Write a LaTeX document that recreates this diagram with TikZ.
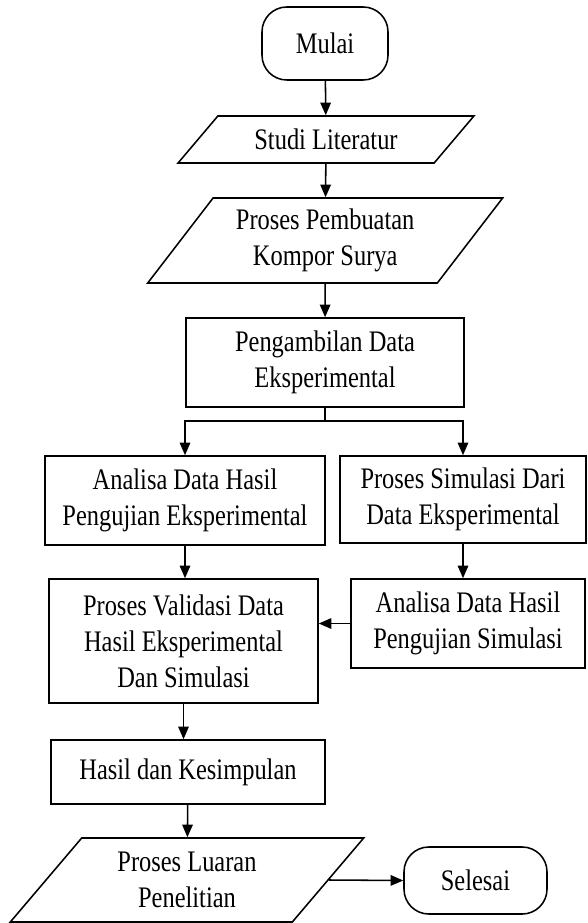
\documentclass[tikz,border=0pt]{standalone}
\usepackage{fontspec}
\setmainfont{Liberation Serif}[FakeStretch=0.82]
\usetikzlibrary{shapes.geometric,arrows.meta}

\begin{document}
\begin{tikzpicture}[
		font=\fontsize{21.2pt}{25.6pt}\selectfont,
		line width=1.1pt,
		>={Triangle[length=9pt,width=7.5pt]},
		proses/.style={rectangle, draw, align=center, inner sep=0pt},
		terminal/.style={rectangle, draw, rounded corners=0.62cm, align=center, inner sep=0pt},
		datain/.style={trapezium, draw, align=center, inner sep=0pt, trapezium stretches=true}
	]
		\useasboundingbox (0,0) rectangle (14.7,-23.075);

		% Top part
		\node[terminal, minimum width=3.15cm, minimum height=1.825cm] (mulai) at (8.125,-1.0875) {Mulai};
		\node[datain, trapezium left angle=38.5, trapezium right angle=141.5, minimum width=7.4cm, minimum height=1.175cm] (studi) at (8.15,-3.4875) {Studi Literatur};
		\node[datain, trapezium left angle=50.5, trapezium right angle=129.5, minimum width=8.875cm, minimum height=2.125cm] (buat) at (8.13,-6.0125) {Proses Pembuatan\\Kompor Surya};
		\node[proses, minimum width=6.95cm, minimum height=2.225cm] (ambil) at (8.125,-9.0625) {Pengambilan Data\\Eksperimental};
		\coordinate (cabang) at (8.125,-10.525);

		\draw[->] (mulai) -- (studi);
		\draw[->] (studi) -- (buat);
		\draw[->] (buat) -- (ambil);

		% Two branches
		\node[proses, minimum width=7cm, minimum height=2.225cm] (analisaeks) at (4.625,-12.5125) {Analisa Data Hasil\\Pengujian Eksperimental};
		\node[proses, minimum width=6.15cm, minimum height=2.175cm] (simulasi) at (11.575,-12.4875) {Proses Simulasi Dari\\Data Eksperimental};
		\node[proses, minimum width=6.725cm, minimum height=3.1cm] (validasi) at (4.5875,-16.025) {Proses Validasi Data\\Hasil Eksperimental\\Dan Simulasi};
		\node[proses, minimum width=5.85cm, minimum height=2.225cm] (analisasim) at (11.7,-15.5875) {Analisa Data Hasil\\Pengujian Simulasi};

		\draw (ambil) -- (cabang);
		\draw[->] (cabang) -| (analisaeks.north);
		\draw[->] (cabang) -| (simulasi.north);
		\draw[->] (analisaeks.south) -- (analisaeks.south |- validasi.north);
		\draw[->] (simulasi.south) -- (simulasi.south |- analisasim.north);
		\draw[->] (analisasim.west) -- (analisasim.west -| validasi.east);

		% Bottom part
		\node[proses, minimum width=6.85cm, minimum height=1.6cm] (hasil) at (4.7,-19.3) {Hasil dan Kesimpulan};
		\node[datain, trapezium left angle=49.8, trapezium right angle=130.2, minimum width=8.85cm, minimum height=2.1cm] (luaran) at (4.675,-22) {Proses Luaran\\Penelitian};
		\node[terminal, minimum width=3.575cm, minimum height=1.675cm] (selesai) at (11.8875,-22.0125) {Selesai};

		\draw[->] (validasi.south) -- (validasi.south |- hasil.north);
		\draw[->] (hasil) -- (luaran);
		\draw[->] (luaran.east) -- (selesai.west);
	\end{tikzpicture}
\end{document}
